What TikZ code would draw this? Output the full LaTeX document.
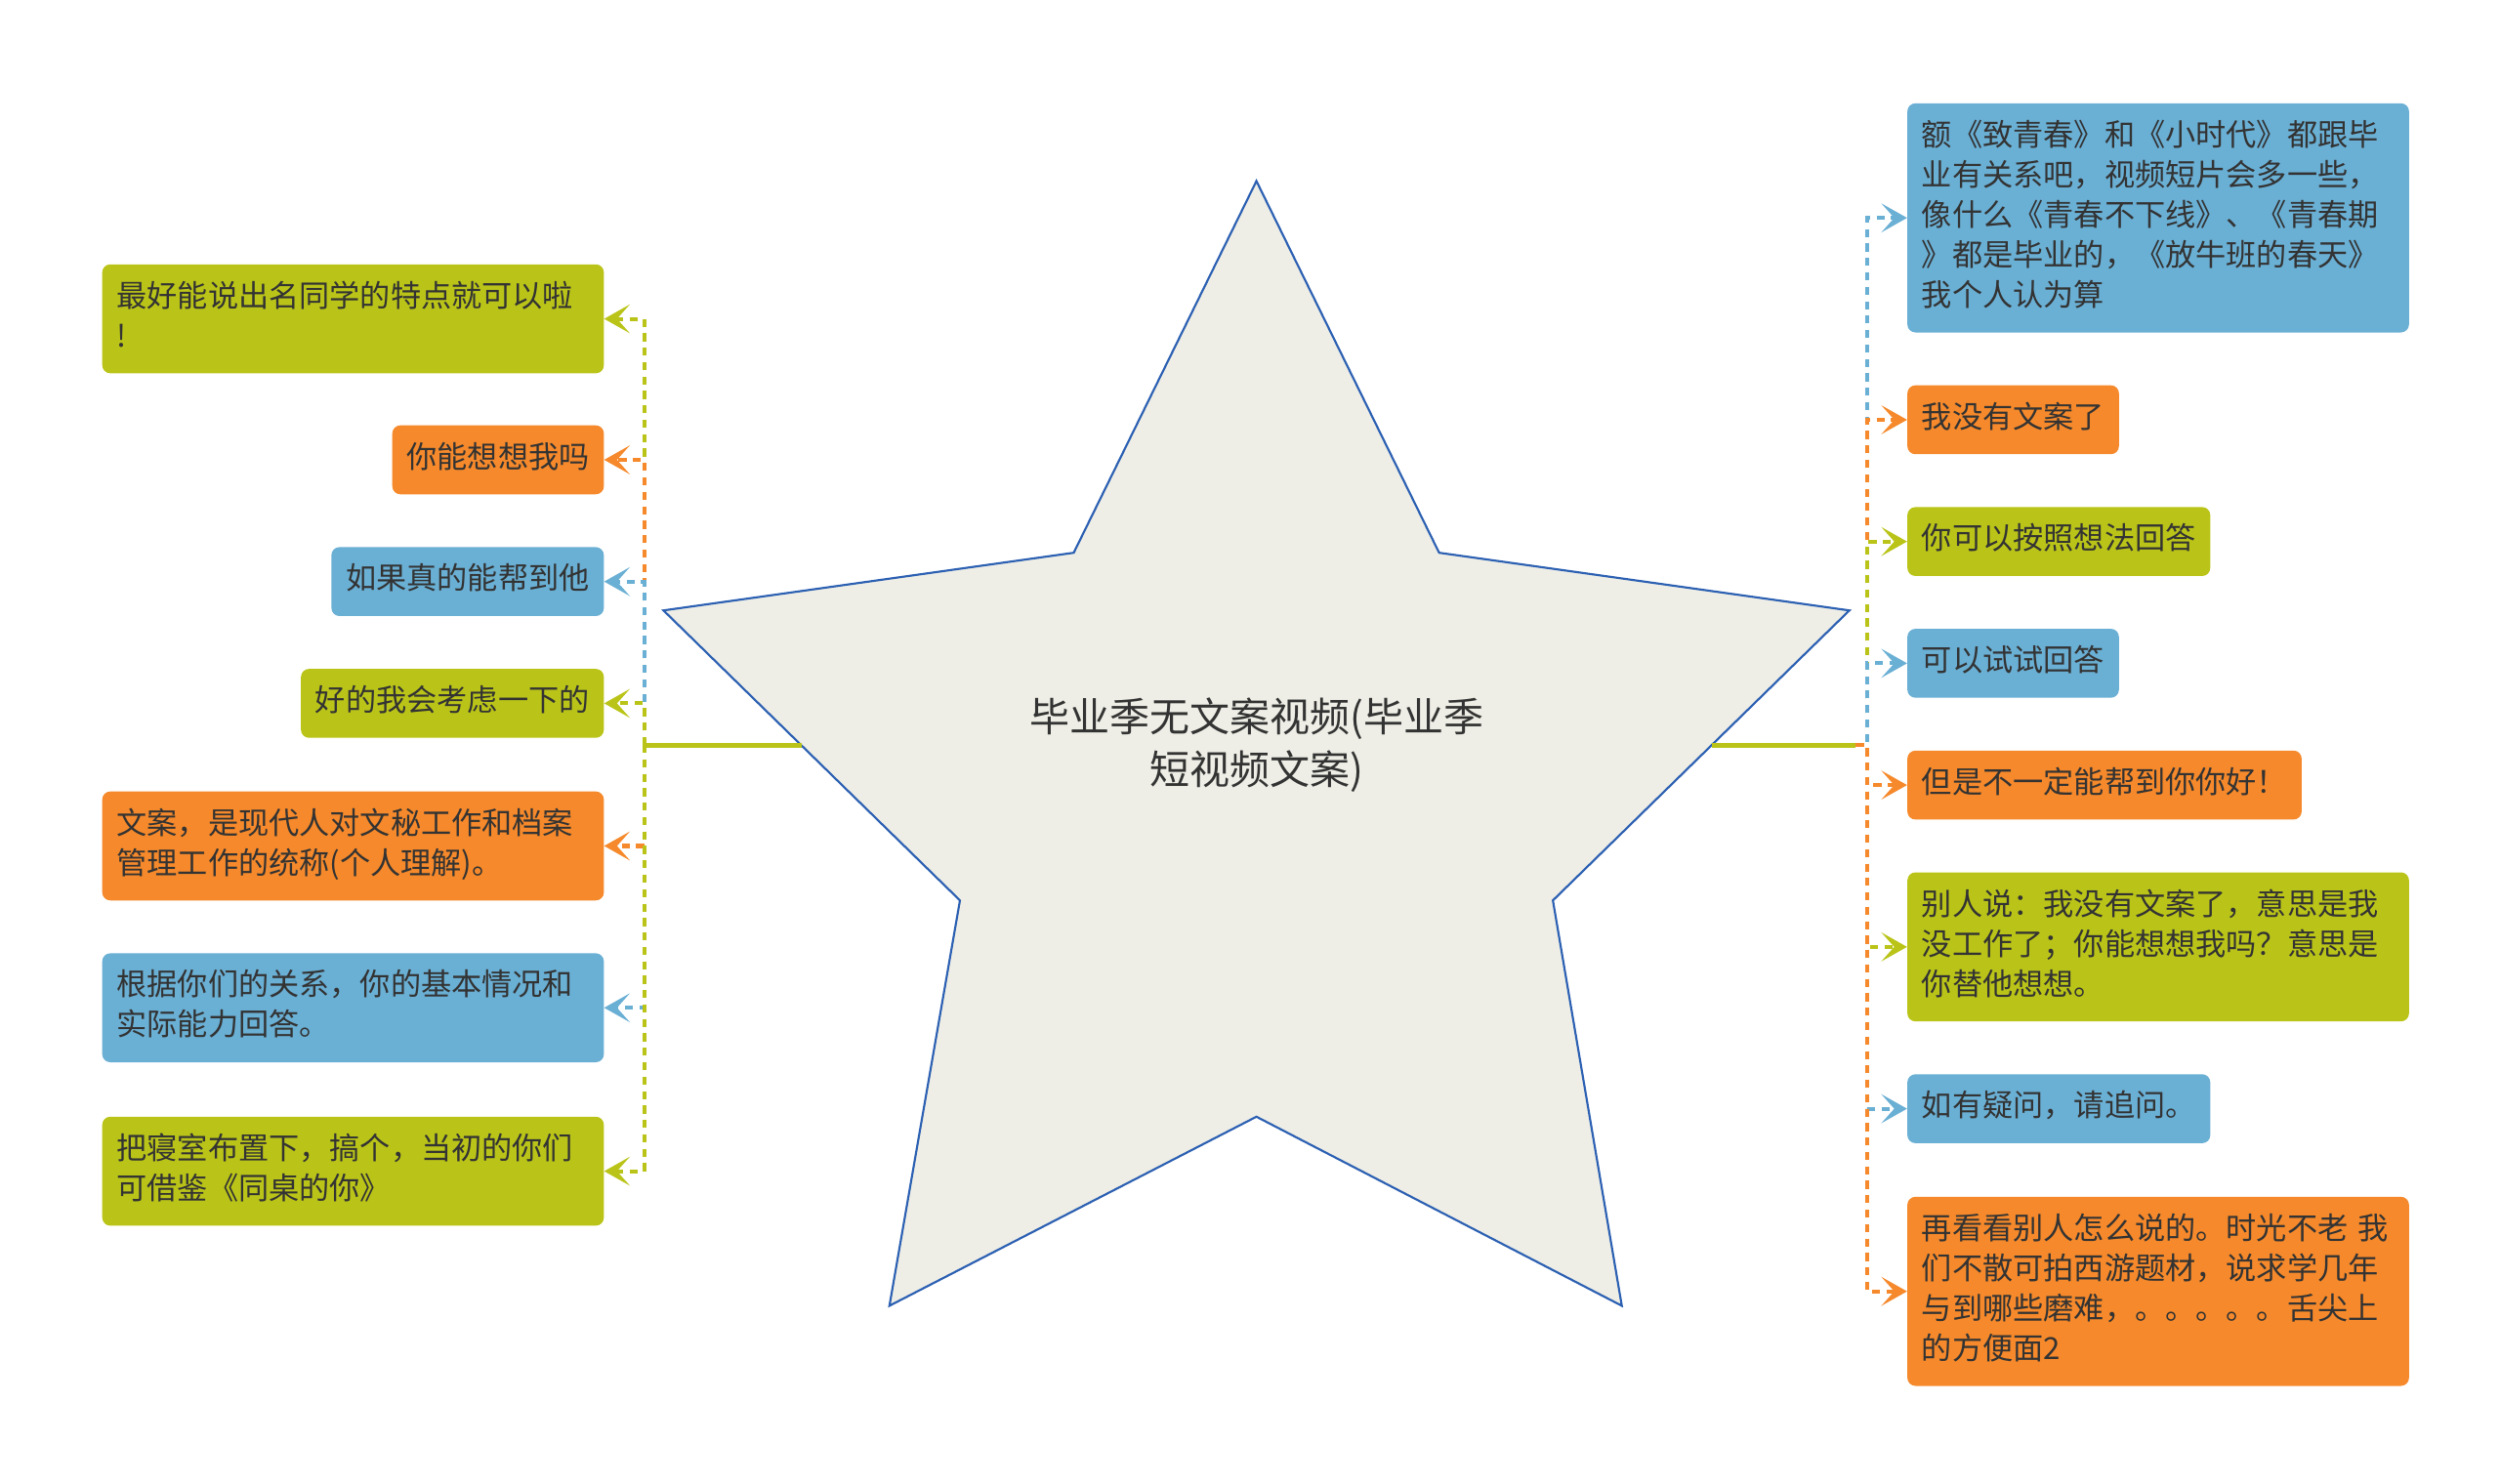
\documentclass[tikz,border=0pt]{standalone}
\usepackage{fontspec}
\setmainfont{Noto Sans CJK SC}
\usetikzlibrary{arrows.meta}
\definecolor{leafgreen}{RGB}{186,196,24}
\definecolor{leaforange}{RGB}{245,137,43}
\definecolor{leafblue}{RGB}{106,175,212}
\definecolor{starfill}{RGB}{238,238,230}
\definecolor{starline}{RGB}{44,96,178}
\definecolor{textgrey}{RGB}{51,51,51}

\begin{document}
\begin{tikzpicture}[x=1pt, y=-1pt,
        leaf/.style={rounded corners=5pt, inner xsep=9pt, inner ysep=9pt, text=textgrey,
            font=\fontsize{19}{25}\selectfont, execute at begin node=\strut, execute at end node=\strut},
        wide/.style={leaf, text width=295pt, align=left},
        link/.style={line width=2.5pt, dash pattern=on 5pt off 4pt,
            -{Stealth[length=16pt, width=18pt, inset=8pt]}}]
        \useasboundingbox (0, 0) rectangle (1560, 925.7);
        % star in the middle
        \draw[draw=starline, fill=starfill, line width=1.3pt] (784, 113) -- (898, 345) -- (1154, 381) -- (969, 562) -- (1012, 815) -- (784, 697) -- (555, 815) -- (599, 562) -- (414, 381) -- (670, 345) -- cycle;
        \node[font=\fontsize{25}{33}\selectfont, align=center, text=textgrey] (root) at (784, 465) {毕业季无文案视频(毕业季\\短视频文案)};
        \coordinate (starL) at (500, 465);
        \coordinate (starR) at (1068, 465);
        \coordinate (lj) at (402, 465);
        \coordinate (rj) at (1165, 465);
        \coordinate (rjs) at (1158, 465);
        \draw[leafgreen, line width=3pt] (starL) -- (lj);
        \draw[leafgreen, line width=3pt] (starR) -- (rjs);

        % left side
        \node[wide, fill=leafgreen, anchor=east] (l1) at (377, 199) {最好能说出名同学的特点就可以啦\\!};
        \node[leaf, fill=leaforange, anchor=east] (l2) at (377, 287) {你能想想我吗};
        \node[leaf, fill=leafblue, anchor=east] (l3) at (377, 363) {如果真的能帮到他};
        \node[leaf, fill=leafgreen, anchor=east] (l4) at (377, 439) {好的我会考虑一下的};
        \node[wide, fill=leaforange, anchor=east] (l5) at (377, 528) {文案，是现代人对文秘工作和档案\\管理工作的统称(个人理解)。};
        \node[wide, fill=leafblue, anchor=east] (l6) at (377, 629) {根据你们的关系，你的基本情况和\\实际能力回答。};
        \node[wide, fill=leafgreen, anchor=east] (l7) at (377, 731) {把寝室布置下，搞个，当初的你们\\可借鉴《同桌的你》};
        \draw[link, leafgreen] (lj) |- (l1.east);
        \draw[link, leaforange] (lj) |- (l2.east);
        \draw[link, leafblue] (lj) |- (l3.east);
        \draw[link, leafgreen] (lj) |- (l4.east);
        \draw[link, leaforange] (lj) |- (l5.east);
        \draw[link, leafblue] (lj) |- (l6.east);
        \draw[link, leafgreen] (lj) |- (l7.east);

        % right side
        \node[wide, fill=leafblue, anchor=west] (r1) at (1190, 136) {额《致青春》和《小时代》都跟毕\\业有关系吧，视频短片会多一些，\\像什么《青春不下线》、《青春期\\》都是毕业的，《放牛班的春天》\\我个人认为算};
        \node[leaf, fill=leaforange, anchor=west] (r2) at (1190, 262) {我没有文案了};
        \node[leaf, fill=leafgreen, anchor=west] (r3) at (1190, 338) {你可以按照想法回答};
        \node[leaf, fill=leafblue, anchor=west] (r4) at (1190, 414) {可以试试回答};
        \node[leaf, fill=leaforange, anchor=west] (r5) at (1190, 490) {但是不一定能帮到你你好！};
        \node[wide, fill=leafgreen, anchor=west] (r6) at (1190, 591) {别人说：我没有文案了，意思是我\\没工作了；你能想想我吗？意思是\\你替他想想。};
        \node[leaf, fill=leafblue, anchor=west] (r7) at (1190, 692) {如有疑问，请追问。};
        \node[wide, fill=leaforange, anchor=west] (r8) at (1190, 806) {再看看别人怎么说的。时光不老 我\\们不散可拍西游题材，说求学几年\\与到哪些磨难，。。。。。舌尖上\\的方便面2};
        \draw[link, leafblue] (rjs) -- (rj) |- (r1.west);
        \draw[link, leaforange] (rjs) -- (rj) |- (r2.west);
        \draw[link, leafgreen] (rjs) -- (rj) |- (r3.west);
        \draw[link, leafblue] (rjs) -- (rj) |- (r4.west);
        \draw[link, leaforange] (rjs) -- (rj) |- (r5.west);
        \draw[link, leafgreen] (rjs) -- (rj) |- (r6.west);
        \draw[link, leafblue] (rjs) -- (rj) |- (r7.west);
        \draw[link, leaforange] (rjs) -- (rj) |- (r8.west);
    \end{tikzpicture}
\end{document}
